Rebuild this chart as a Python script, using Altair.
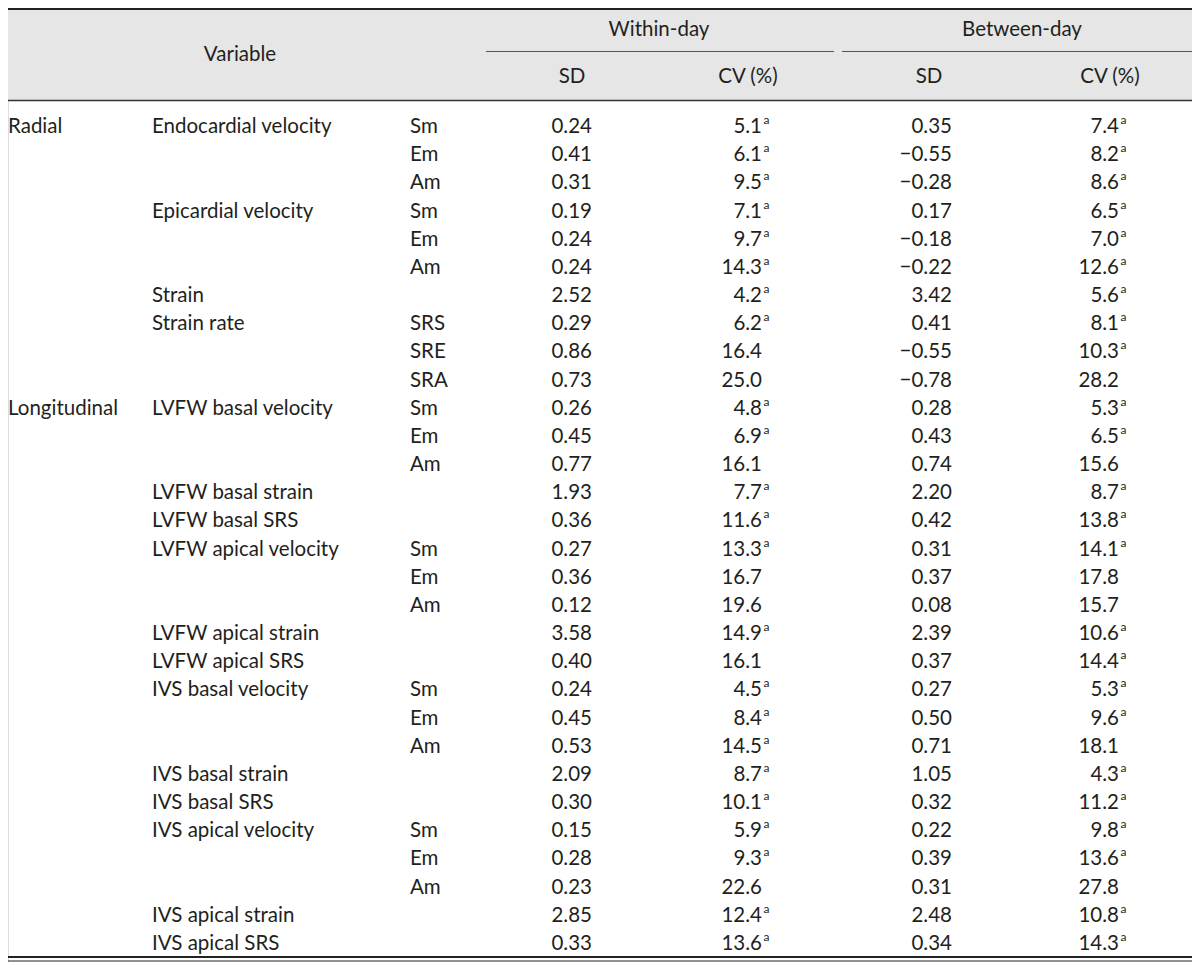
import altair as alt
import pandas as pd

# ---------------- data ----------------
groups = ["Radial"] + [""] * 9 + ["Longitudinal"] + [""] * 19
variables = ["Endocardial velocity", "", "", "Epicardial velocity", "", "", "Strain", "Strain rate", "", "",
             "LVFW basal velocity", "", "", "LVFW basal strain", "LVFW basal SRS",
             "LVFW apical velocity", "", "", "LVFW apical strain", "LVFW apical SRS",
             "IVS basal velocity", "", "", "IVS basal strain", "IVS basal SRS",
             "IVS apical velocity", "", "", "IVS apical strain", "IVS apical SRS"]
subs = ["Sm", "Em", "Am", "Sm", "Em", "Am", "", "SRS", "SRE", "SRA",
        "Sm", "Em", "Am", "", "",
        "Sm", "Em", "Am", "", "",
        "Sm", "Em", "Am", "", "",
        "Sm", "Em", "Am", "", ""]
sd_within = ["0.24", "0.41", "0.31", "0.19", "0.24", "0.24", "2.52", "0.29", "0.86", "0.73",
             "0.26", "0.45", "0.77", "1.93", "0.36", "0.27", "0.36", "0.12", "3.58", "0.40",
             "0.24", "0.45", "0.53", "2.09", "0.30", "0.15", "0.28", "0.23", "2.85", "0.33"]
cv_within = ["5.1", "6.1", "9.5", "7.1", "9.7", "14.3", "4.2", "6.2", "16.4", "25.0",
             "4.8", "6.9", "16.1", "7.7", "11.6", "13.3", "16.7", "19.6", "14.9", "16.1",
             "4.5", "8.4", "14.5", "8.7", "10.1", "5.9", "9.3", "22.6", "12.4", "13.6"]
cv_within_sup = ["a", "a", "a", "a", "a", "a", "a", "a", "", "",
                 "a", "a", "", "a", "a", "a", "", "", "a", "",
                 "a", "a", "a", "a", "a", "a", "a", "", "a", "a"]
sd_between = ["0.35", "−0.55", "−0.28", "0.17", "−0.18", "−0.22", "3.42", "0.41", "−0.55", "−0.78",
              "0.28", "0.43", "0.74", "2.20", "0.42", "0.31", "0.37", "0.08", "2.39", "0.37",
              "0.27", "0.50", "0.71", "1.05", "0.32", "0.22", "0.39", "0.31", "2.48", "0.34"]
cv_between = ["7.4", "8.2", "8.6", "6.5", "7.0", "12.6", "5.6", "8.1", "10.3", "28.2",
              "5.3", "6.5", "15.6", "8.7", "13.8", "14.1", "17.8", "15.7", "10.6", "14.4",
              "5.3", "9.6", "18.1", "4.3", "11.2", "9.8", "13.6", "27.8", "10.8", "14.3"]
cv_between_sup = ["a", "a", "a", "a", "a", "a", "a", "a", "a", "",
                  "a", "a", "", "a", "a", "a", "", "", "a", "a",
                  "a", "a", "", "a", "a", "a", "a", "", "a", "a"]

header_top = ["Within-day", "Between-day"]
header_sub = ["SD", "CV (%)", "SD", "CV (%)"]
header_var = "Variable"

# ---------------- layout (reference pixel space) ----------------
FONT = "Lato"
FS = 20.5
COLOR = "#231f20"
ROW0, ROWSTEP = 127.0, 28.17
col_left = {"group": 6, "variable": 152, "sub": 410}
col_right = {"sd_w": 592, "cv_w": 762, "sd_b": 952, "cv_b": 1119}

xs = alt.Scale(domain=[8, 1192], range=[0, 1184])
ys = alt.Scale(domain=[8, 962], range=[0, 954])
X = lambda f: alt.X(f, type="quantitative", scale=xs, axis=None)
X2 = lambda f: alt.X2(f)
Y = lambda f: alt.Y(f, type="quantitative", scale=ys, axis=None)
Y2 = lambda f: alt.Y2(f)

rows_left, rows_right, rows_sup = [], [], []
for i in range(len(subs)):
    y = ROW0 + i * ROWSTEP
    for key, arr in (("group", groups), ("variable", variables), ("sub", subs)):
        if arr[i]:
            rows_left.append({"x": max(col_left[key], 8), "y": y, "t": arr[i]})
    for key, arr in (("sd_w", sd_within), ("cv_w", cv_within), ("sd_b", sd_between), ("cv_b", cv_between)):
        rows_right.append({"x": col_right[key], "y": y, "t": arr[i]})
    if cv_within_sup[i]:
        rows_sup.append({"x": col_right["cv_w"] + 1.5, "y": y, "t": cv_within_sup[i]})
    if cv_between_sup[i]:
        rows_sup.append({"x": col_right["cv_b"] + 1.5, "y": y, "t": cv_between_sup[i]})

df_left = pd.DataFrame(rows_left)
df_right = pd.DataFrame(rows_right)
df_sup = pd.DataFrame(rows_sup)

df_head = pd.DataFrame([
    {"x": 240, "y": 55, "t": header_var},
    {"x": 659, "y": 30, "t": header_top[0]},
    {"x": 1022, "y": 30, "t": header_top[1]},
    {"x": 572, "y": 77, "t": header_sub[0]},
    {"x": 748, "y": 77, "t": header_sub[1]},
    {"x": 929, "y": 77, "t": header_sub[2]},
    {"x": 1110, "y": 77, "t": header_sub[3]},
])

df_bg = pd.DataFrame([{"x": 8, "x2": 1192, "y": 8, "y2": 100}])
df_lines = pd.DataFrame([
    {"x": 8, "x2": 1192, "y": 9, "w": 2.2, "c": "#222222"},
    {"x": 8, "x2": 1192, "y": 100.5, "w": 1.3, "c": "#333333"},
    {"x": 486, "x2": 834, "y": 51.5, "w": 1.0, "c": "#555555"},
    {"x": 842, "x2": 1192, "y": 51.5, "w": 1.0, "c": "#555555"},
    {"x": 8, "x2": 1192, "y": 957, "w": 2.0, "c": "#222222"},
    {"x": 8, "x2": 1192, "y": 961, "w": 1.0, "c": "#222222"},
])

bg = alt.Chart(df_bg).mark_rect(color="#e6e6e6").encode(x=X("x"), x2=X2("x2"), y=Y("y"), y2=Y2("y2"))
lines = alt.Chart(df_lines).mark_rule().encode(
    x=X("x"), x2=X2("x2"), y=Y("y"),
    strokeWidth=alt.StrokeWidth("w:Q", scale=None, legend=None),
    color=alt.Color("c:N", scale=None, legend=None),
)
txt_kw = dict(font=FONT, fontSize=FS, color=COLOR, baseline="middle")
head = alt.Chart(df_head).mark_text(align="center", **txt_kw).encode(x=X("x"), y=Y("y"), text="t:N")
left = alt.Chart(df_left).mark_text(align="left", **txt_kw).encode(x=X("x"), y=Y("y"), text="t:N")
right = alt.Chart(df_right).mark_text(align="right", **txt_kw).encode(x=X("x"), y=Y("y"), text="t:N")
sup = alt.Chart(df_sup).mark_text(align="left", font=FONT, fontSize=12, color=COLOR, baseline="middle", dy=-7).encode(
    x=X("x"), y=Y("y"), text="t:N")

chart = alt.layer(bg, lines, head, left, right, sup).properties(
    width=1184, height=954, autosize=alt.AutoSizeParams(type="none"), padding=0,
).configure_view(stroke=None).configure(background="white")

chart.save("out.html", embed_options={"renderer": "svg", "actions": False})
